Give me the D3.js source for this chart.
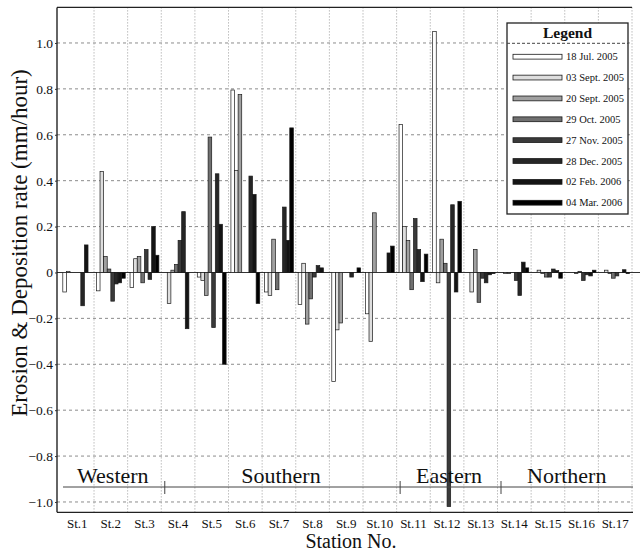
<!DOCTYPE html>
<html>
<head>
<meta charset="utf-8">
<script src="https://cdn.jsdelivr.net/npm/d3@7"></script>
<style>
  html, body { margin: 0; padding: 0; background: #fff; }
  svg { display: block; font-family: "Liberation Serif", "Times New Roman", serif; }
  svg text { font-family: "Liberation Serif", "Times New Roman", serif; }
</style>
</head>
<body>
<svg id="chart" width="642" height="556"></svg>
<script>
// ---------------- DATA ----------------
const stations = ["St.1","St.2","St.3","St.4","St.5","St.6","St.7","St.8","St.9","St.10","St.11","St.12","St.13","St.14","St.15","St.16","St.17"];
const seriesNames = ["18 Jul. 2005","03 Sept. 2005","20 Sept. 2005","29 Oct. 2005","27 Nov. 2005","28 Dec. 2005","02 Feb. 2006","04 Mar. 2006"];

const jul18_2005  = [-0.085, -0.08, -0.065,  0,     -0.02,  0.795, -0.085, -0.14,  -0.475, -0.18,  0.645,  1.05,   0,      0,     0,      0,      0];
const sep03_2005  = [ 0.005,  0.44,  0.06,  -0.135, -0.035, 0.445, -0.10,   0.04,  -0.25,  -0.30,  0.20,  -0.045, -0.085, -0.005, 0.01,   0,      0.01];
const sep20_2005  = [ 0,      0.07,  0.07,   0.01,  -0.10,  0.775,  0.145, -0.225, -0.22,   0.26,  0.14,   0.145,  0.10,  -0.005,-0.005, -0.005, -0.005];
const oct29_2005  = [ 0,      0.015,-0.045,  0.035,  0.59,  0,     -0.075, -0.115,  0,      0,    -0.075,  0.04,  -0.13,   0,    -0.02,   0.005, -0.025];
const nov27_2005  = [ 0,     -0.125, 0.10,   0.14,  -0.24,  0,      0,     -0.02,   0,      0,     0.235, -1.02,  -0.025, -0.035,-0.02,  -0.035, -0.015];
const dec28_2005  = [-0.145, -0.05, -0.03,   0.265,  0.43,  0.42,   0.285,  0.03,  -0.02,   0,     0.10,   0.295, -0.045, -0.10,  0.015, -0.01,   0];
const feb02_2006  = [ 0.12,  -0.045, 0.20,  -0.245,  0.21,  0.34,   0.14,   0.02,   0,      0.085,-0.04,  -0.085, -0.01,   0.045, 0.008, -0.015,  0.012];
const mar04_2006  = [ 0,     -0.025, 0.075,  0,     -0.40, -0.135,  0.63,   0,      0.02,   0.115, 0.08,   0.31,  -0.005,  0.02, -0.025,  0.01,  -0.005];

const seriesValues = [jul18_2005, sep03_2005, sep20_2005, oct29_2005, nov27_2005, dec28_2005, feb02_2006, mar04_2006];
const seriesColors = ["#ffffff", "#dedede", "#a0a0a0", "#707070", "#3a3a3a", "#262626", "#141414", "#000000"];

const yTickValues = [1.0, 0.8, 0.6, 0.4, 0.2, 0, -0.2, -0.4, -0.6, -0.8, -1.0];

const regionNames = ["Western", "Southern", "Eastern", "Northern"];
const regionFirst = ["St.1", "St.4", "St.11", "St.14"];
const regionLast  = ["St.3", "St.10", "St.13", "St.17"];

// ---------------- LAYOUT ----------------
const svg = d3.select("#chart");
const serif = '"Liberation Serif", "Times New Roman", serif';
const axisX = 57, plotRight = 632, plotTop = 7.4, plotBottom = 512.3;

const x = d3.scaleBand().domain(stations).range([60.4, plotRight]).paddingInner(0).paddingOuter(0);
const xs = d3.scaleBand().domain(d3.range(seriesNames.length)).range([0, x.bandwidth()]).paddingInner(0).paddingOuter(0.667);
const y = d3.scaleLinear().domain([-1.045, 1.155]).range([plotBottom, plotTop]);

// gridlines
const grid = svg.append("g");
grid.selectAll("line.h").data(yTickValues.filter(d => d !== 0)).join("line")
  .attr("x1", axisX).attr("x2", plotRight)
  .attr("y1", d => y(d)).attr("y2", d => y(d))
  .attr("stroke", "#8c8c8c").attr("stroke-width", 1).attr("stroke-dasharray", "3,3");
grid.selectAll("line.v").data(stations).join("line")
  .attr("x1", d => x(d) + x.bandwidth()).attr("x2", d => x(d) + x.bandwidth())
  .attr("y1", plotTop).attr("y2", plotBottom)
  .attr("stroke", "#9a9a9a").attr("stroke-width", 1).attr("stroke-dasharray", "1,2");

// frame
svg.append("line").attr("x1", axisX).attr("x2", plotRight).attr("y1", plotTop).attr("y2", plotTop)
  .attr("stroke", "#222").attr("stroke-width", 1.2);
svg.append("line").attr("x1", axisX).attr("x2", plotRight + 1).attr("y1", plotBottom).attr("y2", plotBottom)
  .attr("stroke", "#222").attr("stroke-width", 1.2);

// zero line
svg.append("line").attr("x1", axisX).attr("x2", 640).attr("y1", y(0)).attr("y2", y(0))
  .attr("stroke", "#333").attr("stroke-width", 1.1);

// bars
const barData = [];
seriesValues.forEach((vals, k) => vals.forEach((v, j) => { if (v !== 0) barData.push({k, st: stations[j], v}); }));
svg.append("g").selectAll("rect").data(barData).join("rect")
  .attr("x", d => x(d.st) + xs(d.k))
  .attr("width", xs.bandwidth())
  .attr("y", d => Math.min(y(d.v), y(0)))
  .attr("height", d => Math.abs(y(d.v) - y(0)))
  .attr("fill", d => seriesColors[d.k])
  .attr("stroke", "#1a1a1a").attr("stroke-width", 0.7);

// y axis
const yAxis = d3.axisLeft(y).tickValues(yTickValues)
  .tickFormat(d => d === 0 ? "0" : d3.format(".1f")(d))
  .tickSize(2).tickSizeOuter(0).tickPadding(2);
const ya = svg.append("g").attr("transform", `translate(${axisX},0)`).call(yAxis);
ya.attr("font-family", null).attr("font-size", null);
ya.select(".domain").attr("stroke", "#111").attr("stroke-width", 1.3)
  .attr("d", `M0,${plotTop}V${plotBottom}`);
ya.selectAll(".tick line").attr("stroke", "#333");
ya.selectAll(".tick text").style("font-family", serif).style("font-size", "13.5px").attr("fill", "#111");

// station labels
svg.append("g").selectAll("text").data(stations).join("text")
  .attr("x", d => x(d) + x.bandwidth() / 2).attr("y", 528)
  .attr("text-anchor", "middle").style("font-size", "13px").attr("fill", "#111")
  .text(d => d);

// axis titles
svg.append("text").attr("x", 351).attr("y", 548).attr("text-anchor", "middle")
  .style("font-size", "20px").attr("fill", "#111").text("Station No.");
svg.append("text").attr("transform", "translate(27,243) rotate(-90)").attr("text-anchor", "middle")
  .style("font-size", "23px").attr("fill", "#111").text("Erosion & Deposition rate (mm/hour)");

// regions
const regionY = 487;
svg.append("line").attr("x1", 63).attr("x2", 633).attr("y1", regionY).attr("y2", regionY)
  .attr("stroke", "#444").attr("stroke-width", 1);
svg.append("g").selectAll("line").data(regionFirst.slice(1)).join("line")
  .attr("x1", d => x(d) + 3.5).attr("x2", d => x(d) + 3.5)
  .attr("y1", regionY - 6).attr("y2", regionY + 7)
  .attr("stroke", "#444").attr("stroke-width", 1);
svg.append("g").selectAll("text").data(regionNames).join("text")
  .attr("x", (d, i) => (x(regionFirst[i]) + x(regionLast[i]) + x.bandwidth()) / 2 + 2)
  .attr("y", regionY - 4).attr("text-anchor", "middle")
  .style("font-size", "22px").attr("fill", "#111").text(d => d);

// legend
const lg = svg.append("g").attr("transform", "translate(507,23)");
lg.append("rect").attr("width", 121).attr("height", 191).attr("fill", "#fff")
  .attr("stroke", "#222").attr("stroke-width", 1.3);
lg.append("text").attr("x", 60.5).attr("y", 14.5).attr("text-anchor", "middle")
  .style("font-size", "15.5px").attr("font-weight", "bold").attr("fill", "#111").text("Legend");
lg.append("line").attr("x1", 0).attr("x2", 121).attr("y1", 20.3).attr("y2", 20.3)
  .attr("stroke", "#444").attr("stroke-width", 1).attr("stroke-dasharray", "3,2");
const le = lg.selectAll("g.e").data(seriesNames).join("g")
  .attr("transform", (d, i) => `translate(0,${33.7 + i * 20.86})`);
le.append("rect").attr("x", 6).attr("y", -2.4).attr("width", 49).attr("height", 4.8)
  .attr("fill", (d, i) => seriesColors[i]).attr("stroke", "#1a1a1a").attr("stroke-width", 0.8);
le.append("text").attr("x", 59).attr("y", 3.6).style("font-size", "10.5px").attr("fill", "#111").text(d => d);
</script>
</body>
</html>
